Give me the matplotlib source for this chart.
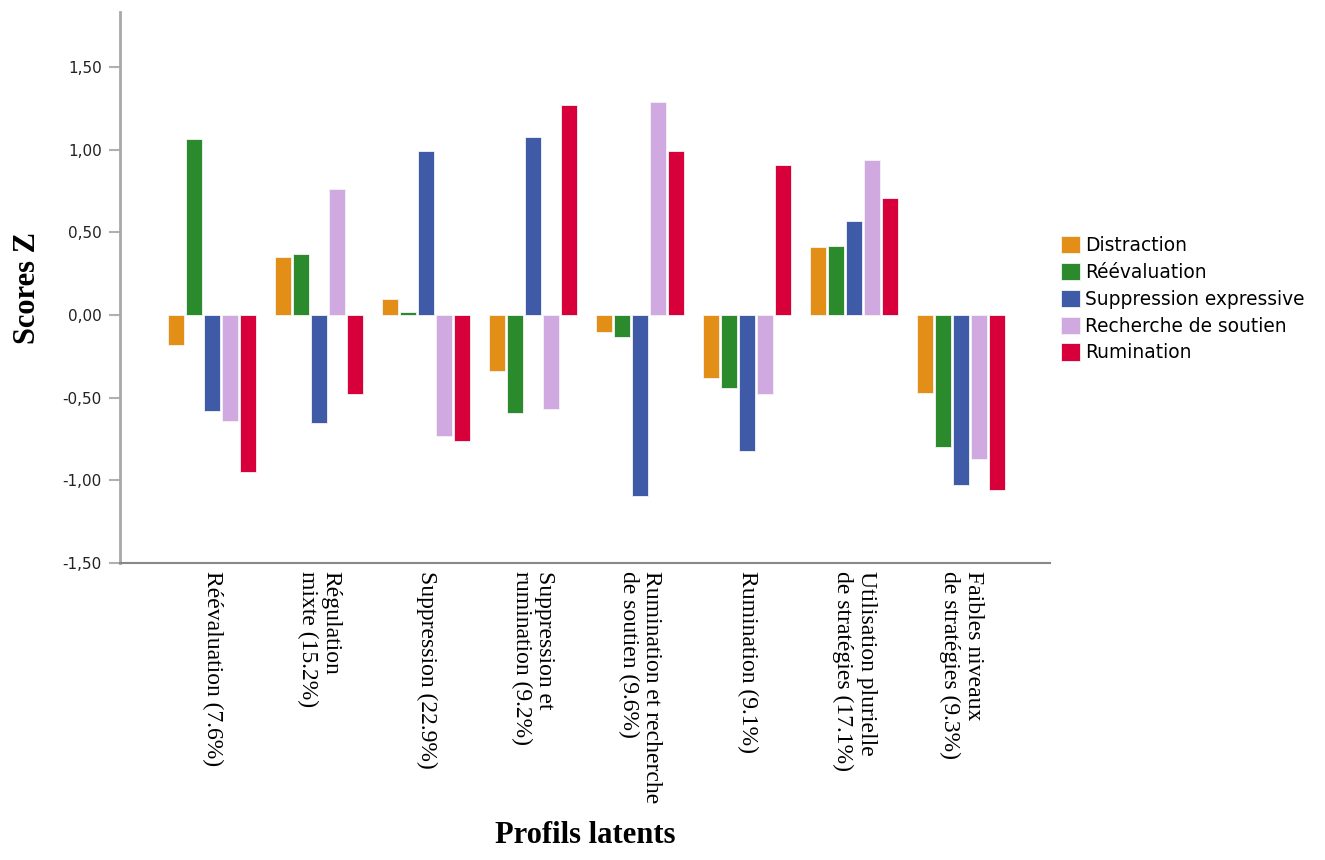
import numpy as np
import matplotlib
matplotlib.use("Agg")
import matplotlib.pyplot as plt
import matplotlib.transforms as mtransforms

# profils latents (axe x)
profils = ["Réévaluation (7.6%)",
           "Régulation\nmixte (15.2%)",
           "Suppression (22.9%)",
           "Suppression et\nrumination (9.2%)",
           "Rumination et recherche\nde soutien (9.6%)",
           "Rumination (9.1%)",
           "Utilisation plurielle\nde stratégies (17.1%)",
           "Faibles niveaux\nde stratégies (9.3%)"]

strategies = ["Distraction", "Réévaluation", "Suppression expressive",
              "Recherche de soutien", "Rumination"]

# scores Z par stratégie, un par profil
distraction = [-0.18, 0.35, 0.10, -0.34, -0.10, -0.38, 0.41, -0.47]
reevaluation = [1.065, 0.37, 0.02, -0.59, -0.13, -0.44, 0.42, -0.80]
suppression = [-0.58, -0.65, 0.99, 1.08, -1.095, -0.82, 0.57, -1.03]
recherche = [-0.64, 0.76, -0.73, -0.57, 1.29, -0.48, 0.94, -0.87]
rumination = [-0.95, -0.48, -0.76, 1.27, 0.99, 0.91, 0.71, -1.06]

series = [distraction, reevaluation, suppression, recherche, rumination]
couleurs = ["#E38E17", "#2B8A2B", "#3F5BA8", "#D1A9E1", "#D8003A"]

fig = plt.figure(figsize=(13.25, 8.6), dpi=100)
ax = fig.add_axes([0.0906, 0.3453, 0.7019, 0.6407])

x = np.arange(len(profils))
largeur = 0.15
pas = 0.168
for k, (vals, c, nom) in enumerate(zip(series, couleurs, strategies)):
    ax.bar(x + (k - 2) * pas, vals, width=largeur, color=c,
           edgecolor="#f4f4f4", linewidth=0.6, label=nom, zorder=2)

ax.set_xlim(-0.86, 7.83)
ax.set_ylim(-1.5, 1.833)

ax.set_yticks([-1.5, -1.0, -0.5, 0.0, 0.5, 1.0, 1.5])
ax.set_yticklabels([("%.2f" % v).replace(".", ",") for v in ax.get_yticks()],
                   fontsize=11, color="#222222")
ax.tick_params(axis="y", length=8, width=1.5, color="#b0b0b0", pad=5)

ax.set_xticks(x)
ax.set_xticklabels(profils, rotation=270, ha="center", va="top",
                   fontsize=17, family="Liberation Serif", linespacing=1.15)
decal = mtransforms.ScaledTranslation(-0.045, 0, fig.dpi_scale_trans)
for t in ax.get_xticklabels():
    t.set_multialignment("left")
    t.set_transform(t.get_transform() + decal)
ax.tick_params(axis="x", length=0, pad=6)

for s in ["top", "right"]:
    ax.spines[s].set_visible(False)
ax.spines["left"].set_color("#a8a8a8")
ax.spines["left"].set_linewidth(2)
ax.spines["bottom"].set_color("#888888")
ax.spines["bottom"].set_linewidth(1.5)

ax.set_ylabel("Scores Z", fontsize=22, fontweight="bold",
              family="Liberation Serif", labelpad=15)
fig.text(0.4415, 0.012, "Profils latents", fontsize=22, fontweight="bold",
         family="Liberation Serif", ha="center", va="bottom")

fig.legend(loc="upper left", bbox_to_anchor=(0.7955, 0.734), frameon=False,
           fontsize=13.4, handlelength=1.0, handleheight=1.05,
           handletextpad=0.25, labelspacing=0.42, borderaxespad=0)

fig.savefig("out.png", dpi=100)
